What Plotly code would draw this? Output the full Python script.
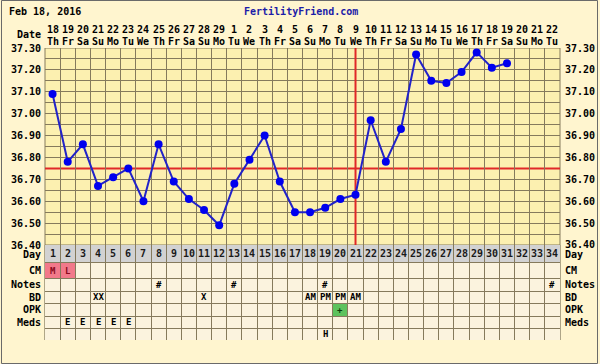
import plotly.graph_objects as go

# ---------------- data ----------------
day_numbers = list(range(1, 35))
date_labels = ["18", "19", "20", "21", "22", "23", "24", "25", "26", "27", "28", "29",
               "1", "2", "3", "4", "5", "6", "7", "8", "9", "10", "11", "12", "13",
               "14", "15", "16", "17", "18", "19", "20", "21", "22"]
weekday_labels = ["Th", "Fr", "Sa", "Su", "Mo", "Tu", "We"] * 4 + ["Th", "Fr", "Sa", "Su", "Mo", "Tu"]

temp_days = list(range(1, 32))
temperatures = [37.09, 36.78, 36.86, 36.67, 36.71, 36.75, 36.60, 36.86, 36.69, 36.61,
                36.56, 36.49, 36.68, 36.79, 36.90, 36.69, 36.55, 36.55, 36.57, 36.61,
                36.63, 36.97, 36.78, 36.93, 37.27, 37.15, 37.14, 37.19, 37.28, 37.21,
                37.23]
coverline = 36.75
ovulation_day = 21
temp_labels = [36.40, 36.50, 36.60, 36.70, 36.80, 36.90, 37.00, 37.10, 37.20, 37.30]
temp_grid = [36.40, 36.45, 36.50, 36.55, 36.60, 36.65, 36.70, 36.80, 36.85,
             36.90, 36.95, 37.00, 37.05, 37.10, 37.15, 37.20, 37.25, 37.30]

row_names = ["Day", "CM", "Notes", "BD", "OPK", "Meds", ""]
cm_entries = {1: "M", 2: "L"}
notes_entries = {8: "#", 13: "#", 19: "#", 34: "#"}
bd_entries = {4: "XX", 11: "X", 18: "AM", 19: "PM", 20: "PM", 21: "AM"}
opk_entries = {20: "+"}
meds_entries = {2: "E", 3: "E", 4: "E", 5: "E", 6: "E"}
extra_entries = {19: "H"}

# ---------------- style ----------------
W, H = 600, 364
ML, MR, MT, MB = 45, 40, 48, 24
PH = H - MT - MB
TABLE_H = 95
# row boundaries (table axis units, top -> bottom)
row_bounds = [95, 77.3, 61.7, 49, 36.3, 24, 11.7, 0]

FONT = "DejaVu Sans Mono"
GRID = "#857a5c"
PAPER = "#fff5cf"
PLOTBG = "#fcf0b0"
CELL = "#fbf3de"
GRAY = "#d2d2d2"
PINK = "#f2798a"
GREEN = "#5dc25d"
BLUE_L = "#2222c8"
BLUE_M = "#0000ee"
RED = "#e02828"

def px_to_paper_y(Y):
    return (H - MB - Y) / PH

def px_to_paper_x(X):
    return (X - ML) / (W - ML - MR)

fig = go.Figure()

fig.add_trace(go.Scatter(
    x=temp_days, y=temperatures, mode="lines+markers",
    line=dict(color=BLUE_L, width=2),
    marker=dict(color=BLUE_M, size=8),
    xaxis="x", yaxis="y", hoverinfo="x+y", showlegend=False,
))

shapes = []
annotations = []

# table row backgrounds
for r in range(len(row_names)):
    shapes.append(dict(type="rect", xref="x", yref="y2", x0=0.5, x1=34.5,
                       y0=row_bounds[r + 1], y1=row_bounds[r],
                       fillcolor=GRAY if r == 0 else CELL, line=dict(width=0), layer="below"))

# highlighted cells
for d in cm_entries:
    shapes.append(dict(type="rect", xref="x", yref="y2", x0=d - 0.5, x1=d + 0.5,
                       y0=row_bounds[2], y1=row_bounds[1], fillcolor=PINK,
                       line=dict(width=0), layer="below"))
for d in opk_entries:
    shapes.append(dict(type="rect", xref="x", yref="y2", x0=d - 0.5, x1=d + 0.5,
                       y0=row_bounds[5], y1=row_bounds[4], fillcolor=GREEN,
                       line=dict(width=0), layer="below"))

# borders
shapes.append(dict(type="rect", xref="paper", yref="y", x0=0, x1=1, y0=36.40, y1=37.30,
                   line=dict(color=GRID, width=1), layer="between"))
shapes.append(dict(type="rect", xref="paper", yref="y2", x0=0, x1=1, y0=0, y1=95,
                   line=dict(color="#5e5640", width=1), layer="between"))

# coverline & ovulation line
shapes.append(dict(type="line", xref="paper", yref="y", x0=0, x1=1, y0=coverline, y1=coverline,
                   line=dict(color=RED, width=2), layer="between"))
shapes.append(dict(type="line", xref="x", yref="y", x0=ovulation_day, x1=ovulation_day,
                   y0=36.40, y1=37.30, line=dict(color=RED, width=2), layer="between"))

# outer frame
shapes.append(dict(type="rect", xref="paper", yref="paper",
                   x0=px_to_paper_x(1.5), x1=px_to_paper_x(597.5),
                   y0=px_to_paper_y(363.5), y1=px_to_paper_y(0.5),
                   line=dict(color="#6a6a6a", width=1), layer="below"))

bold = dict(family=FONT, size=10, color="black", weight="bold")

# header
annotations.append(dict(text="Feb 18, 2016", xref="paper", yref="paper",
                        x=px_to_paper_x(7), y=px_to_paper_y(11), xanchor="left", yanchor="middle",
                        showarrow=False, font=bold))
annotations.append(dict(text="FertilityFriend.com", xref="paper", yref="paper",
                        x=px_to_paper_x(301), y=px_to_paper_y(11), xanchor="center", yanchor="middle",
                        showarrow=False, font=dict(family=FONT, size=10, color="#1c1ca8", weight="bold")))
annotations.append(dict(text="Date", xref="paper", yref="paper",
                        x=px_to_paper_x(43), y=px_to_paper_y(34.5), xanchor="right", yanchor="middle",
                        showarrow=False, font=bold))

# date row
for d, dl, wl in zip(day_numbers, date_labels, weekday_labels):
    annotations.append(dict(text=dl, xref="x", yref="paper", x=d, y=px_to_paper_y(29.5),
                            xanchor="center", yanchor="middle", showarrow=False, font=bold))
    annotations.append(dict(text=wl, xref="x", yref="paper", x=d, y=px_to_paper_y(41),
                            xanchor="center", yanchor="middle", showarrow=False, font=bold))

# right temperature labels
for t in temp_labels:
    annotations.append(dict(text=f"{t:.2f}", xref="paper", yref="y", x=px_to_paper_x(563), y=t,
                            xanchor="left", yanchor="middle", showarrow=False, font=bold,
                            yshift=1 if t == temp_labels[0] else 0))

# row labels
for r, name in enumerate(row_names):
    if not name:
        continue
    yc = (row_bounds[r] + row_bounds[r + 1]) / 2
    ys = -1 if r == 0 else 0
    annotations.append(dict(text=name, xref="paper", yref="y2", x=px_to_paper_x(43), y=yc,
                            xanchor="right", yanchor="middle", showarrow=False, font=bold, yshift=ys))
    annotations.append(dict(text=name, xref="paper", yref="y2", x=px_to_paper_x(563), y=yc,
                            xanchor="left", yanchor="middle", showarrow=False, font=bold, yshift=ys))

# day numbers
yc_day = (row_bounds[0] + row_bounds[1]) / 2
for d in day_numbers:
    annotations.append(dict(text=str(d), xref="x", yref="y2", x=d, y=yc_day,
                            xanchor="center", yanchor="middle", showarrow=False,
                            font=dict(family=FONT, size=10, color="#1a1a1a", weight="bold")))

# cell entries
def add_entries(entries, row, color="black"):
    yc = (row_bounds[row] + row_bounds[row + 1]) / 2
    for d, txt in entries.items():
        annotations.append(dict(text=txt, xref="x", yref="y2", x=d, y=yc,
                                xanchor="center", yanchor="middle", showarrow=False,
                                font=dict(family=FONT, size=9, color=color, weight="bold")))

add_entries(cm_entries, 1, "#8b0a1e")
add_entries(notes_entries, 2)
add_entries(bd_entries, 3)
add_entries(opk_entries, 4, "#0b3d0b")
add_entries(meds_entries, 5)
add_entries(extra_entries, 6)

split = TABLE_H / PH

fig.update_layout(
    width=W, height=H, autosize=False,
    margin=dict(l=ML, r=MR, t=MT, b=MB, pad=0),
    paper_bgcolor=PAPER, plot_bgcolor=PLOTBG,
    showlegend=False,
    shapes=shapes, annotations=annotations,
    xaxis=dict(range=[0.5, 34.5], tickmode="linear", tick0=0.5, dtick=1,
               showticklabels=False, ticks="", showgrid=True, gridcolor=GRID, gridwidth=1,
               zeroline=False, showline=False, anchor="y2", fixedrange=True, automargin=False),
    yaxis=dict(domain=[split, 1], range=[36.40, 37.30], tickvals=temp_grid,
               ticktext=[(f"{t:.2f}" if any(abs(t - l) < 1e-6 for l in temp_labels) else "")
                         for t in temp_grid],
               ticks="", ticklabelstandoff=3, tickfont=bold, showgrid=True, gridcolor=GRID,
               gridwidth=1, zeroline=False, showline=False, fixedrange=True, automargin=False),
    yaxis2=dict(domain=[0, split], range=[0, TABLE_H], tickvals=row_bounds,
                showticklabels=False, ticks="", showgrid=True, gridcolor=GRID, gridwidth=1,
                zeroline=False, showline=False, fixedrange=True, automargin=False),
)

fig.write_html("out.html", config={"displayModeBar": False},
               post_script="document.body.style.margin='0';document.body.style.overflow='hidden';")
